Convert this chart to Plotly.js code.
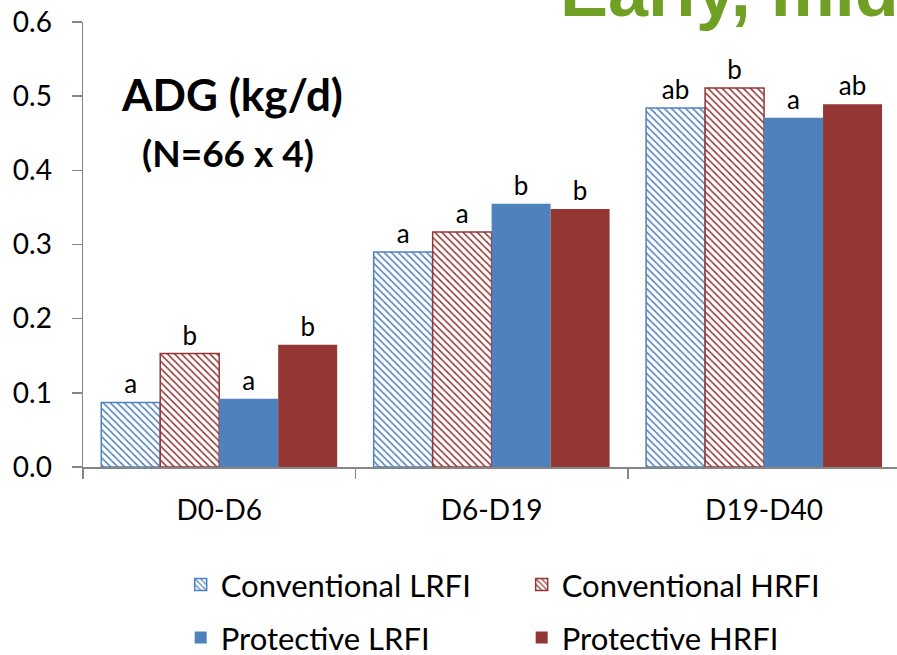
<!DOCTYPE html>
<html>
<head>
<meta charset="utf-8">
<script src="https://cdn.plot.ly/plotly-3.0.1.min.js"></script>
<style>html,body{margin:0;padding:0;background:#fff;}#chart{width:897px;height:655px;}</style>
</head>
<body>
<div id="chart"></div>
<script>
const periods = ["D0-D6", "D6-D19", "D19-D40"];
const convLRFI = [0.087, 0.290, 0.484];
const convHRFI = [0.153, 0.317, 0.511];
const protLRFI = [0.092, 0.355, 0.471];
const protHRFI = [0.165, 0.348, 0.489];
const lblConvLRFI = ["a", "a", "ab"];
const lblConvHRFI = ["b", "a", "b"];
const lblProtLRFI = ["a", "b", "a"];
const lblProtHRFI = ["b", "b", "ab"];
const yTicks = [0, 0.1, 0.2, 0.3, 0.4, 0.5, 0.6];

const BLUE = "#4F81BD", RED = "#943634";
const FONT = "Lato, 'Open Sans', sans-serif";
const textFont = {family: FONT, size: 26, color: "#000"};

function patterned(name, y, txt, col, legend) {
  return {type: "bar", name: name, x: periods, y: y, text: txt,
    textposition: "outside", textfont: textFont, cliponaxis: false, legend: legend,
    marker: {color: "#ffffff", line: {color: col, width: 1.5},
      pattern: {shape: "\\", fgcolor: col, bgcolor: "#ffffff", size: 5, solidity: 0.3, fillmode: "replace"}},
    hoverinfo: "skip"};
}
function solid(name, y, txt, col, legend) {
  return {type: "bar", name: name, x: periods, y: y, text: txt,
    textposition: "outside", textfont: textFont, cliponaxis: false, legend: legend,
    marker: {color: col, line: {color: col, width: 0}}, hoverinfo: "skip"};
}

const data = [
  patterned("Conventional LRFI", convLRFI, lblConvLRFI, BLUE, "legend"),
  patterned("Conventional HRFI", convHRFI, lblConvHRFI, RED, "legend"),
  solid("Protective LRFI", protLRFI, lblProtLRFI, BLUE, "legend2"),
  solid("Protective HRFI", protHRFI, lblProtHRFI, RED, "legend2")
];

const legendCommon = {orientation: "h", xanchor: "left", yanchor: "middle",
  font: {family: FONT, size: 31, color: "#000"}, entrywidth: 296, entrywidthmode: "pixels",
  bgcolor: "rgba(0,0,0,0)", traceorder: "normal"};

const layout = {
  width: 897, height: 655,
  margin: {l: 83, r: 0, t: 22, b: 188, autoexpand: false},
  paper_bgcolor: "#fff", plot_bgcolor: "#fff",
  barmode: "group", bargap: 0.134, bargroupgap: 0,
  font: {family: FONT, color: "#000"},
  xaxis: {type: "category", range: [-0.5, 2.488], showline: true, linecolor: "#868686", linewidth: 1.5,
    ticks: "outside", tickson: "boundaries", ticklen: 10, tickcolor: "#868686", tickwidth: 1.5,
    ticklabelstandoff: 18,
    tickfont: {family: FONT, size: 28, color: "#000"}, showgrid: false, zeroline: false, fixedrange: true},
  yaxis: {range: [0, 0.6], tickvals: yTicks, tickformat: ".1f", showline: true, linecolor: "#868686", linewidth: 1.5,
    ticks: "outside", ticklen: 10, tickcolor: "#868686", tickwidth: 1.5, ticklabelstandoff: 14,
    tickfont: {family: FONT, size: 28, color: "#000"}, showgrid: false, zeroline: false, fixedrange: true},
  legend: Object.assign({x: 0.12, y: -0.265}, legendCommon),
  legend2: Object.assign({x: 0.12, y: -0.384}, legendCommon),
  annotations: [
    {xref: "paper", yref: "paper", x: 0.183, y: 0.838, text: "<b>ADG (kg/d)</b>", showarrow: false,
      font: {family: FONT, size: 44, color: "#000"}, xanchor: "center", yanchor: "middle"},
    {xref: "paper", yref: "paper", x: 0.178, y: 0.707, text: "<b>(N=66 x 4)</b>", showarrow: false,
      font: {family: FONT, size: 37, color: "#000"}, xanchor: "center", yanchor: "middle"},
    {xref: "paper", yref: "paper", x: 0.5835, y: 1.07, text: "<b>Early, mid</b>", showarrow: false,
      font: {family: "'Liberation Sans', Arial, sans-serif", size: 72, color: "#6FA023"}, xanchor: "left", yanchor: "middle"}
  ]
};

Plotly.newPlot("chart", data, layout, {displayModeBar: false, staticPlot: true});
</script>
</body>
</html>
